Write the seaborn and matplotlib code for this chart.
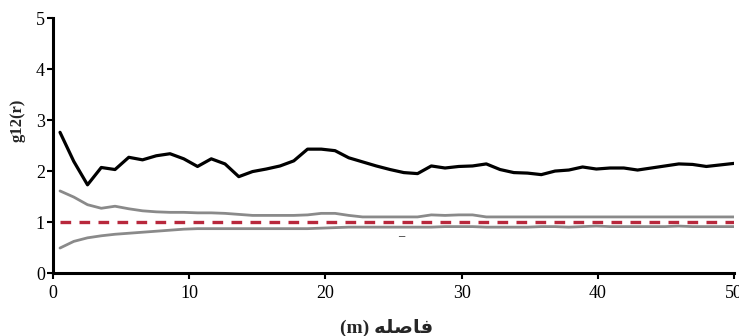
import numpy as np
import pandas as pd
import matplotlib
matplotlib.use("Agg")
import matplotlib.pyplot as plt
import seaborn as sns

# Distance r (m) at which the pair-correlation function was evaluated
r = np.linspace(0.5, 50, 50)

# Observed bivariate pair-correlation g12(r)
g12 = [2.76, 2.19, 1.73, 2.07, 2.03, 2.27, 2.22, 2.30, 2.34, 2.24,
       2.09, 2.24, 2.14, 1.89, 1.99, 2.04, 2.10, 2.20, 2.43, 2.43,
       2.40, 2.26, 2.18, 2.10, 2.03, 1.97, 1.95, 2.10, 2.06, 2.09,
       2.10, 2.14, 2.03, 1.97, 1.96, 1.93, 2.00, 2.02, 2.08, 2.04,
       2.06, 2.06, 2.02, 2.06, 2.10, 2.14, 2.13, 2.09, 2.12, 2.15]

# Upper and lower simulation envelopes
upper = [1.61, 1.49, 1.34, 1.27, 1.31, 1.26, 1.22, 1.20, 1.19, 1.19,
         1.18, 1.18, 1.17, 1.15, 1.13, 1.13, 1.13, 1.13, 1.14, 1.17,
         1.17, 1.13, 1.10, 1.10, 1.10, 1.10, 1.10, 1.14, 1.13, 1.14,
         1.14, 1.10, 1.10, 1.10, 1.10, 1.10, 1.10, 1.10, 1.10, 1.10,
         1.10, 1.10, 1.10, 1.10, 1.10, 1.10, 1.10, 1.10, 1.10, 1.10]
lower = [0.49, 0.62, 0.69, 0.73, 0.76, 0.78, 0.80, 0.82, 0.84, 0.86,
         0.87, 0.87, 0.87, 0.87, 0.87, 0.87, 0.87, 0.87, 0.87, 0.88,
         0.89, 0.90, 0.90, 0.90, 0.90, 0.90, 0.90, 0.90, 0.91, 0.91,
         0.91, 0.90, 0.90, 0.90, 0.90, 0.91, 0.91, 0.90, 0.91, 0.92,
         0.91, 0.91, 0.91, 0.91, 0.91, 0.92, 0.91, 0.91, 0.91, 0.91]

# Expected value under independence
expected = [1.0] * len(r)

x_ticks = [0, 10, 20, 30, 40, 50]
y_ticks = [0, 1, 2, 3, 4, 5]

df = pd.DataFrame({"r": r, "g12": g12, "upper": upper,
                   "lower": lower, "expected": expected})

sns.set_style("ticks")
plt.rcParams["font.family"] = ["Liberation Serif", "DejaVu Sans"]

fig = plt.figure(figsize=(7.39, 3.36), dpi=100)
ax = fig.add_axes([0.072, 0.1875, 0.921, 0.7585])

sns.lineplot(data=df, x="r", y="upper", ax=ax, color="#8a8a8a", linewidth=2.0)
sns.lineplot(data=df, x="r", y="lower", ax=ax, color="#8a8a8a", linewidth=2.0)
sns.lineplot(data=df, x="r", y="expected", ax=ax, color="#b8283c",
             linewidth=2.4, linestyle=(0, (3.2, 2.5)))
sns.lineplot(data=df, x="r", y="g12", ax=ax, color="black", linewidth=2.3)

ax.set_xlim(0, 50)
ax.set_ylim(0, 5)
ax.set_xticks(x_ticks)
ax.set_yticks(y_ticks)
ax.tick_params(axis="both", labelsize=13, length=4, width=1.5,
               direction="out", colors="black")
ax.tick_params(axis="x", pad=5)
ax.tick_params(axis="y", pad=2)

sns.despine(ax=ax)
for side in ("left", "bottom"):
    ax.spines[side].set_linewidth(2.2)
    ax.spines[side].set_color("black")

ax.set_ylabel("g12(r)", fontsize=12, fontweight="bold",
              family=["Liberation Serif", "DejaVu Sans"])
ax.yaxis.set_label_coords(-0.04, 0.6)

# Persian axis title "فاصله" written with its joined letter forms
ax.set_xlabel("(m) \ufeea\ufee0\ufebb\ufe8e\ufed3", fontsize=14,
              fontweight="bold", family=["Liberation Serif", "DejaVu Sans"],
              va="center")
ax.xaxis.set_label_coords(0.49, -0.215)

ax.text(25.6, 0.72, "\u2013", fontsize=9, ha="center", va="center",
        color="black")

fig.savefig("out.png", dpi=100, facecolor="white")
